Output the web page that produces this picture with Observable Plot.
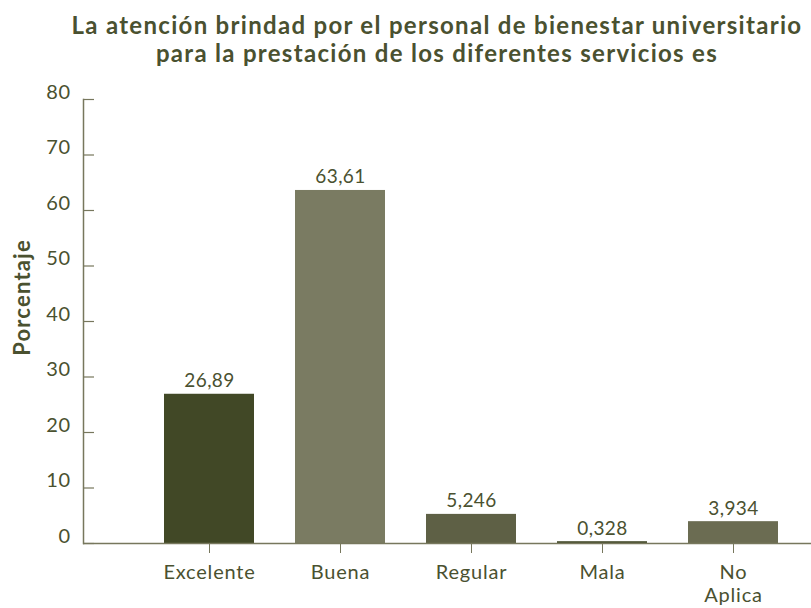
<!DOCTYPE html>
<html><head><meta charset="utf-8">
<script src="https://cdn.jsdelivr.net/npm/d3@7"></script>
<script src="https://cdn.jsdelivr.net/npm/@observablehq/plot@0.6"></script>
<style>
body{margin:0;background:#fff;}
#wrap{position:relative;width:811px;height:608px;overflow:hidden;font-family:Lato,sans-serif;color:#4a5130;}
#title{position:absolute;left:37px;width:800px;top:11px;text-align:center;font-weight:bold;font-size:24px;line-height:28px;letter-spacing:1.3px;}
#chart{position:absolute;left:0;top:0;}
#chart g[aria-label="x-axis tick label"] text{letter-spacing:0.8px;}
#chart g[aria-label="y-axis tick label"] text{letter-spacing:0.5px;}
#chart g[aria-label="text"] text{letter-spacing:0.4px;}
#chart g.ylab text{letter-spacing:1.2px;}
</style></head>
<body>
<div id="wrap">
  <div id="chart"></div>
  <div id="title">La atención brindad por el personal de bienestar universitario<br>para la prestación de los diferentes servicios es</div>
</div>
<script>
const categories = ["Excelente", "Buena", "Regular", "Mala", "No Aplica"];
const values = [26.89, 63.61, 5.246, 0.328, 3.934];
const valueLabels = ["26,89", "63,61", "5,246", "0,328", "3,934"];
const yTicks = [0, 10, 20, 30, 40, 50, 60, 70, 80];
const barColors = ["#414826", "#7a7b62", "#5e6045", "#4a5030", "#6b6c52"];
const yLabel = "Porcentaje";

const data = categories.map((c, i) => ({category: c, value: values[i], label: valueLabels[i]}));
const textColor = "#4a5130";
const axisColor = "#77775d";

const chart = Plot.plot({
  width: 811, height: 608,
  marginTop: 99, marginBottom: 65, marginLeft: 83, marginRight: 0,
  style: {fontFamily: "Lato, sans-serif", fontSize: "17px", color: textColor, background: "transparent"},
  x: {domain: categories, range: [142.25, 799.75], paddingInner: 0.316, paddingOuter: 0.158, label: null},
  y: {domain: [0, 80], label: null},
  color: {domain: categories, range: barColors},
  marks: [
    Plot.barY(data, {x: "category", y: "value", fill: "category"}),
    Plot.text(data, {x: "category", y: "value", text: "label", lineAnchor: "bottom", dy: -7, fill: textColor, fontSize: 19}),
    Plot.frame({anchor: "left", stroke: axisColor, strokeWidth: 1.5}),
    Plot.ruleY([0], {stroke: axisColor, strokeWidth: 1.5}),
    Plot.ruleY(yTicks, {stroke: axisColor, strokeWidth: 1.2, insetRight: 728 - 11}),
    Plot.axisY({ticks: yTicks, tickSize: 0, tickPadding: 13, dy: -7, fontSize: 20, fill: textColor}),
    Plot.axisX({tickSize: 10, tickPadding: 9, stroke: axisColor, fill: textColor, fontSize: 20, lineHeight: 1.15, tickFormat: d => d.replace(" ", "\n")}),
    Plot.text([yLabel], {text: d => d, frameAnchor: "left", textAnchor: "middle", rotate: -90, dx: -61, dy: -24, fontWeight: "bold", fontSize: 22, fill: textColor, className: "ylab"})
  ]
});
document.getElementById("chart").appendChild(chart);
</script>
</body></html>
